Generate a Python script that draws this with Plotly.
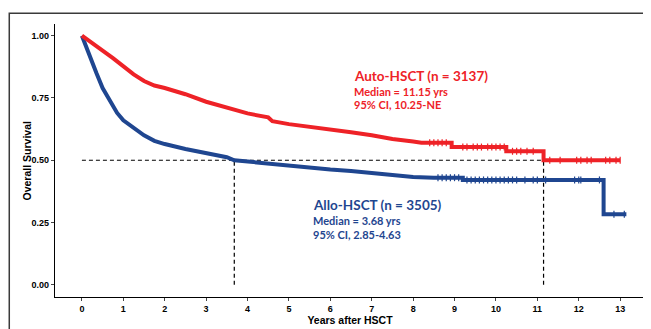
import plotly.graph_objects as go

# ---- data ----
auto_t = [0, 0.25, 0.5, 0.75, 1.0, 1.25, 1.5, 1.75, 2.0, 2.5, 3.0, 3.5, 4.0, 4.5, 4.6, 5.0, 5.5, 6.0, 6.5,
          7.0, 7.5, 8.0, 8.2, 8.93, 8.93, 10.25, 10.25, 11.15, 11.15, 13.0]
auto_s = [1.0, 0.972, 0.94, 0.91, 0.875, 0.845, 0.818, 0.80, 0.79, 0.765, 0.735, 0.71, 0.688, 0.672, 0.657,
          0.645, 0.635, 0.622, 0.612, 0.60, 0.585, 0.575, 0.57, 0.57, 0.553, 0.553, 0.536, 0.536, 0.50, 0.50]

allo_t = [0, 0.1, 0.2, 0.35, 0.5, 0.68, 0.85, 1.0, 1.25, 1.5, 1.75, 2.0, 2.5, 3.0, 3.5, 3.68, 4.0, 4.5,
          5.0, 5.5, 6.0, 6.5, 7.0, 7.5, 8.0, 8.5, 9.2, 9.2, 12.6, 12.6, 13.15]
allo_s = [1.0, 0.955, 0.91, 0.85, 0.79, 0.735, 0.69, 0.66, 0.628, 0.60, 0.578, 0.565, 0.545, 0.528, 0.512,
          0.50, 0.495, 0.485, 0.476, 0.47, 0.463, 0.457, 0.45, 0.44, 0.433, 0.43, 0.43, 0.421, 0.421, 0.283, 0.283]

auto_cens_t = [8.4, 8.5, 8.6, 8.7, 8.8, 9.2, 9.3, 9.45, 9.55, 9.65, 9.8, 9.9, 10.0, 10.1, 10.2,
               10.4, 10.5, 10.6, 10.75, 10.9, 11.3, 11.55, 11.95, 12.05, 12.2, 12.3, 12.65, 12.75, 12.9, 13.0]
auto_cens_s = [0.57] * 5 + [0.553] * 10 + [0.536] * 5 + [0.50] * 10

allo_cens_t = [8.6, 8.7, 8.8, 8.9, 9.0, 9.1, 9.3, 9.4, 9.5, 9.6, 9.7, 9.8, 9.9, 10.0, 10.1, 10.2, 10.3,
               10.4, 10.5, 10.7, 10.9, 11.0, 11.2, 11.9, 12.0, 12.05, 12.5, 12.85, 13.1]
allo_cens_s = [0.43] * 6 + [0.421] * 21 + [0.283] * 2

medians = {"auto": 11.15, "allo": 3.68}
x_ticks = list(range(0, 14))
y_ticks = [0.0, 0.25, 0.5, 0.75, 1.0]
y_ticklabels = ["0.00", "0.25", "0.50", "0.75", "1.00"]

RED = "#EE2227"
BLUE = "#1F4690"
DASH = "4px,3px"

fig = go.Figure()

# reference dashed lines
fig.add_trace(go.Scatter(x=[0, medians["auto"]], y=[0.5, 0.5], mode="lines",
                         line=dict(color="black", width=1.2, dash=DASH), hoverinfo="skip"))
for m in medians.values():
    fig.add_trace(go.Scatter(x=[m, m], y=[0, 0.5], mode="lines",
                             line=dict(color="black", width=1.2, dash=DASH), hoverinfo="skip"))

fig.add_trace(go.Scatter(x=allo_t, y=allo_s, mode="lines", line=dict(color=BLUE, width=4)))
fig.add_trace(go.Scatter(x=allo_cens_t, y=allo_cens_s, mode="markers",
                         marker=dict(symbol="line-ns-open", size=5, color=BLUE,
                                     line=dict(color=BLUE, width=1.2))))
fig.add_trace(go.Scatter(x=auto_t, y=auto_s, mode="lines", line=dict(color=RED, width=4)))
fig.add_trace(go.Scatter(x=auto_cens_t, y=auto_cens_s, mode="markers",
                         marker=dict(symbol="line-ns-open", size=5, color=RED,
                                     line=dict(color=RED, width=1.2))))

TXT = "Lato"
anns = [
    dict(x=6.57, y=0.838, text="<b>Auto-HSCT (n = 3137)</b>", color=RED, size=13.5),
    dict(x=6.57, y=0.778, text="<b>Median = 11.15 yrs</b>", color=RED, size=11),
    dict(x=6.57, y=0.723, text="<b>95% CI, 10.25-NE</b>", color=RED, size=11),
    dict(x=5.58, y=0.319, text="<b>Allo-HSCT (n = 3505)</b>", color=BLUE, size=13.5),
    dict(x=5.58, y=0.260, text="<b>Median = 3.68 yrs</b>", color=BLUE, size=11),
    dict(x=5.58, y=0.203, text="<b>95% CI, 2.85-4.63</b>", color=BLUE, size=11),
]
for a in anns:
    fig.add_annotation(x=a["x"], y=a["y"], text=a["text"], showarrow=False, xanchor="left",
                       yanchor="middle", xshift=-2,
                       font=dict(family=TXT, size=a["size"], color=a["color"]))

AX = "Liberation Sans"
# y-axis title placed as a rotated annotation
fig.add_annotation(xref="paper", yref="paper", x=-0.0475, y=0.5, text="<b>Overall Survival</b>",
                   textangle=-90, showarrow=False, xanchor="center", yanchor="middle",
                   font=dict(family=AX, size=10.5, color="black"))

# outer frame
fig.add_shape(type="rect", xref="paper", yref="paper", x0=-0.0775, x1=1.5, y0=-0.5, y1=1.0397,
              line=dict(color="#3a3a3a", width=1.5), layer="below")

fig.update_layout(
    width=643, height=321,
    margin=dict(l=47, r=6, t=16, b=28),
    paper_bgcolor="white", plot_bgcolor="white",
    showlegend=False,
    xaxis=dict(range=[-0.65, 13.6], tickvals=x_ticks, ticktext=["<b>%d</b>" % t for t in x_ticks],
               ticks="outside", ticklen=3, tickwidth=1,
               showline=True, linecolor="black", linewidth=1.3, showgrid=False, zeroline=False,
               tickfont=dict(family=AX, size=9, color="black"),
               title=dict(text="<b>Years after HSCT</b>", font=dict(family=AX, size=10.5, color="black"),
                          standoff=2)),
    yaxis=dict(range=[-0.049, 1.047], tickvals=y_ticks, ticktext=["<b>%s</b>" % t for t in y_ticklabels],
               ticks="outside", ticklen=3, tickwidth=1,
               showline=True, linecolor="black", linewidth=1.3, showgrid=False, zeroline=False,
               tickfont=dict(family=AX, size=9, color="black")),
)

fig.write_html("out.html")
